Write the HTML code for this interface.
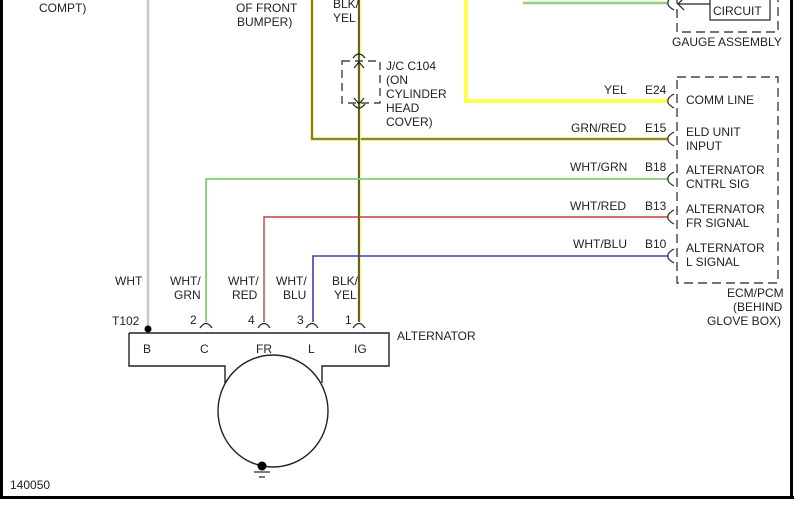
<!DOCTYPE html>
<html><head><meta charset="utf-8"><style>
html,body{margin:0;padding:0;background:#fff;}
svg{display:block;}
text{font-family:"Liberation Sans",Arial,sans-serif;font-size:12px;fill:#222;}
</style></head><body>
<svg width="800" height="506" viewBox="0 0 800 506" xmlns="http://www.w3.org/2000/svg">
<rect width="800" height="506" fill="#fff"/>
<rect x="0" y="0" width="3" height="499" fill="#000"/>
<rect x="0" y="496" width="794" height="3" fill="#000"/>
<rect x="790" y="0" width="3" height="499" fill="#000"/>

<line x1="148" y1="0" x2="148" y2="328" stroke="#c8c8c8" stroke-width="2.5"/>
<circle cx="148" cy="329" r="3.5" fill="#000"/>

<polyline points="312,0 312,139 668,139" fill="none" stroke="#f0f08a" stroke-width="4"/>
<polyline points="312,0 312,139 668,139" fill="none" stroke="#6b6020" stroke-width="1.6"/>

<polyline points="466,0 466,101 668,101" fill="none" stroke="#ffff50" stroke-width="4"/>
<line x1="523" y1="3" x2="668" y2="3" stroke="#90d080" stroke-width="2.5"/>

<line x1="359" y1="0" x2="359" y2="322" stroke="#f0f070" stroke-width="3.5"/>
<line x1="359" y1="0" x2="359" y2="322" stroke="#222" stroke-width="1.4"/>

<polyline points="206,322 206,179 668,179" fill="none" stroke="#80d070" stroke-width="1.8"/>
<polyline points="264,322 264,217 668,217" fill="none" stroke="#c04040" stroke-width="1.4"/>
<polyline points="313,322 313,256 668,256" fill="none" stroke="#4040b0" stroke-width="1.6"/>

<g fill="none" stroke="#222" stroke-width="1.2">
<path d="M674,94 Q667,98 668,101 Q667,104 674,108"/>
<path d="M674,132 Q667,136 668,139 Q667,142 674,146"/>
<path d="M674,172 Q667,176 668,179 Q667,182 674,186"/>
<path d="M674,210 Q667,214 668,217 Q667,220 674,224"/>
<path d="M674,249 Q667,253 668,256 Q667,259 674,263"/>
<path d="M674,-4 Q667,0 668,3 Q667,6 674,10"/>
<path d="M200,328 Q206,319 212,328"/>
<path d="M258,328 Q264,319 270,328"/>
<path d="M306,328 Q312,319 318,328"/>
<path d="M353,328 Q359,319 365,328"/>
<path d="M353,58 Q359,50 365,58"/>
<path d="M353,104 Q359,112 365,104"/>
<polyline points="354,68 359,62 364,68"/>
<polyline points="354,98 359,104 364,98"/>
</g>

<rect x="342" y="61" width="38" height="42" fill="none" stroke="#222" stroke-width="1.2" stroke-dasharray="8,5"/>
<rect x="677" y="77" width="101" height="206" fill="none" stroke="#222" stroke-width="1.2" stroke-dasharray="9,5"/>
<polyline points="677,-5 677,32 778,32 778,-5" fill="none" stroke="#222" stroke-width="1.2" stroke-dasharray="9,5"/>
<rect x="710" y="-5" width="60" height="25" fill="none" stroke="#222" stroke-width="1.2"/>
<line x1="678" y1="4" x2="710" y2="4" stroke="#222" stroke-width="1.2"/>
<polyline points="684,-2 678,4 684,10" fill="none" stroke="#222" stroke-width="1.2"/>

<path d="M129,333 H389 V366 H322 V383 M225,383 V366 H129 V333" fill="none" stroke="#222" stroke-width="1.4"/>
<ellipse cx="273" cy="411" rx="55" ry="56" fill="none" stroke="#222" stroke-width="1.4"/>
<circle cx="262" cy="466" r="4.5" fill="#000"/>
<line x1="254" y1="472" x2="270" y2="472" stroke="#222" stroke-width="1.2"/>
<line x1="259" y1="477" x2="265" y2="477" stroke="#222" stroke-width="1.2"/>

<text x="39" y="12">COMPT)</text>
<text x="236" y="12">OF FRONT</text>
<text x="237" y="26">BUMPER)</text>
<text x="333" y="8">BLK/</text>
<text x="333" y="22">YEL</text>
<text x="713" y="15">CIRCUIT</text>
<text x="672" y="46">GAUGE ASSEMBLY</text>
<text x="386" y="70">J/C C104</text>
<text x="386" y="84">(ON</text>
<text x="386" y="98">CYLINDER</text>
<text x="386" y="112">HEAD</text>
<text x="386" y="126">COVER)</text>

<text x="604" y="94">YEL</text>
<text x="645" y="94">E24</text>
<text x="686" y="104">COMM LINE</text>
<text x="571" y="132">GRN/RED</text>
<text x="645" y="132">E15</text>
<text x="686" y="136">ELD UNIT</text>
<text x="686" y="150">INPUT</text>
<text x="570" y="171">WHT/GRN</text>
<text x="645" y="171">B18</text>
<text x="686" y="174">ALTERNATOR</text>
<text x="686" y="188">CNTRL SIG</text>
<text x="570" y="210">WHT/RED</text>
<text x="645" y="210">B13</text>
<text x="686" y="213">ALTERNATOR</text>
<text x="686" y="227">FR SIGNAL</text>
<text x="573" y="248">WHT/BLU</text>
<text x="645" y="248">B10</text>
<text x="686" y="252">ALTERNATOR</text>
<text x="686" y="266">L SIGNAL</text>
<text x="727" y="297">ECM/PCM</text>
<text x="733" y="311">(BEHIND</text>
<text x="707" y="325">GLOVE BOX)</text>

<text x="115" y="285">WHT</text>
<text x="170" y="285">WHT/</text>
<text x="174" y="299">GRN</text>
<text x="228" y="285">WHT/</text>
<text x="232" y="299">RED</text>
<text x="276" y="285">WHT/</text>
<text x="283" y="299">BLU</text>
<text x="332" y="285">BLK/</text>
<text x="334" y="299">YEL</text>
<text x="112" y="325">T102</text>
<text x="190" y="324">2</text>
<text x="248" y="324">4</text>
<text x="297" y="324">3</text>
<text x="345" y="324">1</text>
<text x="397" y="340">ALTERNATOR</text>
<text x="143" y="353">B</text>
<text x="200" y="353">C</text>
<text x="256" y="353">FR</text>
<text x="308" y="353">L</text>
<text x="354" y="353">IG</text>
<text x="10" y="489">140050</text>
</svg>
</body></html>
